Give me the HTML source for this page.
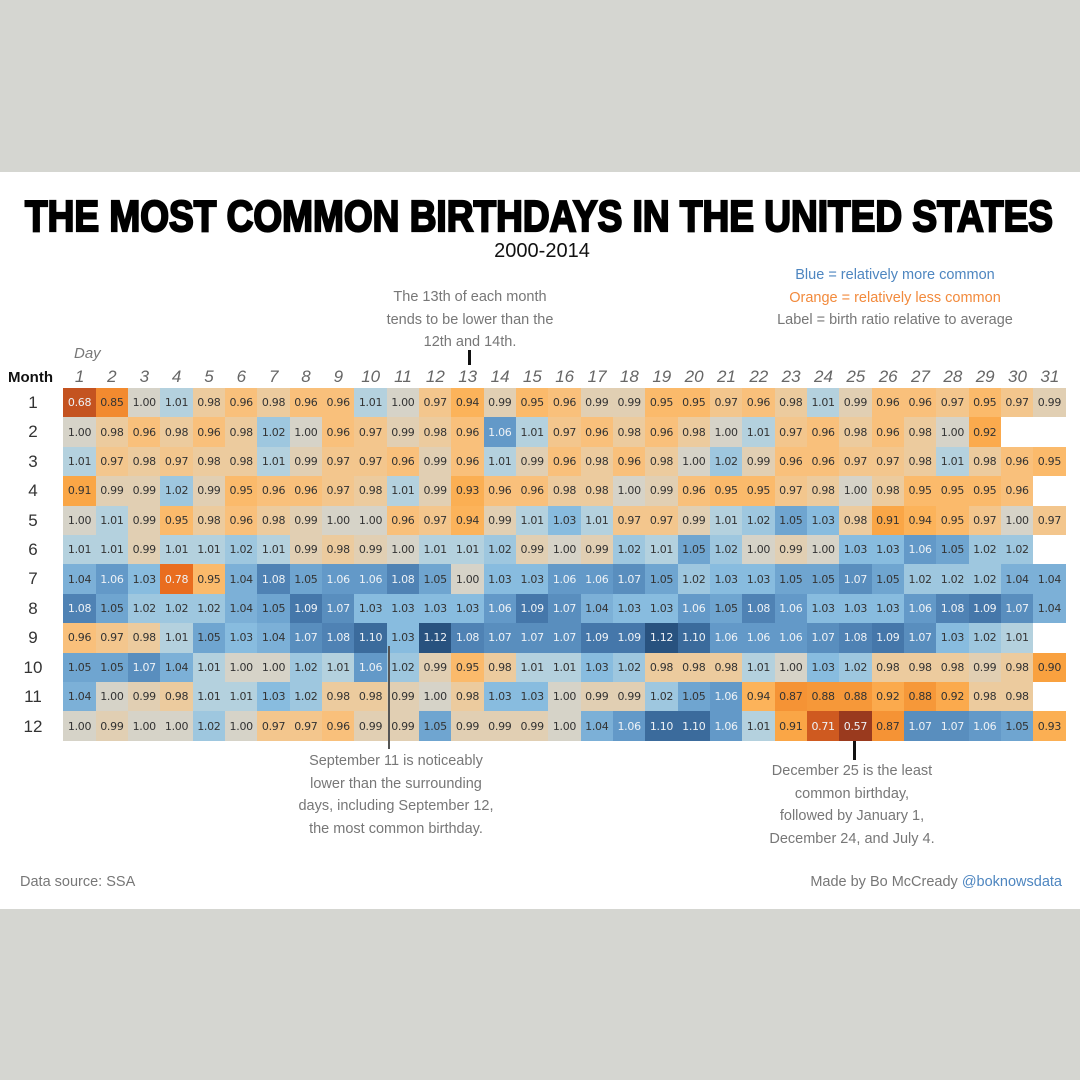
<!DOCTYPE html>
<html><head><meta charset="utf-8">
<style>
body{margin:0;width:1080px;height:1080px;background:#d5d6d1;position:relative;overflow:hidden;font-family:"Liberation Sans",sans-serif}
#panel{position:absolute;left:0;top:172px;width:1080px;height:737px;background:#fff}
.t{position:absolute;white-space:nowrap}
.c{text-align:center;transform:translateX(-50%)}
#grid{position:absolute;left:63.4px;top:388px;display:grid;grid-template-columns:repeat(31,32.34px);grid-auto-rows:29.42px}
#grid span{font-size:11px;color:#333;display:flex;align-items:center;justify-content:center;font-family:"DejaVu Sans","Liberation Sans",sans-serif;letter-spacing:-0.3px}
#grid span.e{background:transparent}
.ann{font-size:14.5px;color:#777;line-height:22.5px;text-align:center}
.day{position:absolute;top:367px;font-size:17px;font-style:italic;color:#666;transform:translateX(-50%)}
.mon{position:absolute;left:33px;font-size:17px;color:#333;transform:translate(-50%,-50%)}
</style></head><body>
<div id="panel"></div>
<svg style="position:absolute;left:0;top:0" width="1080" height="260">
<text x="25" y="231" textLength="1028" lengthAdjust="spacingAndGlyphs" font-family="Liberation Sans" font-weight="bold" font-size="44" fill="#000" stroke="#000" stroke-width="2.2">THE MOST COMMON BIRTHDAYS IN THE UNITED STATES</text>
</svg>
<div class="t c" style="left:542px;top:240px;font-size:20px;color:#111">2000-2014</div>
<div class="t c ann" style="left:470px;top:286px">The 13th of each month<br>tends to be lower than the<br>12th and 14th.</div>
<div class="t" style="left:467.5px;top:350px;width:3px;height:15px;background:#111"></div>
<div class="t c ann" style="left:895px;top:264px"><span style="color:#4e86c0">Blue = relatively more common</span><br><span style="color:#f28a3c">Orange = relatively less common</span><br>Label = birth ratio relative to average</div>
<div class="t" style="left:74px;top:345px;font-size:15px;font-style:italic;color:#777">Day</div>
<div class="t" style="left:8px;top:369px;font-size:15px;font-weight:bold;color:#111">Month</div>
<div id="days"></div>
<div id="mons"></div>
<div id="grid">
<span>0.68</span><span>0.85</span><span>1.00</span><span>1.01</span><span>0.98</span><span>0.96</span><span>0.98</span><span>0.96</span><span>0.96</span><span>1.01</span><span>1.00</span><span>0.97</span><span>0.94</span><span>0.99</span><span>0.95</span><span>0.96</span><span>0.99</span><span>0.99</span><span>0.95</span><span>0.95</span><span>0.97</span><span>0.96</span><span>0.98</span><span>1.01</span><span>0.99</span><span>0.96</span><span>0.96</span><span>0.97</span><span>0.95</span><span>0.97</span><span>0.99</span>
<span>1.00</span><span>0.98</span><span>0.96</span><span>0.98</span><span>0.96</span><span>0.98</span><span>1.02</span><span>1.00</span><span>0.96</span><span>0.97</span><span>0.99</span><span>0.98</span><span>0.96</span><span>1.06</span><span>1.01</span><span>0.97</span><span>0.96</span><span>0.98</span><span>0.96</span><span>0.98</span><span>1.00</span><span>1.01</span><span>0.97</span><span>0.96</span><span>0.98</span><span>0.96</span><span>0.98</span><span>1.00</span><span>0.92</span><span class="e"></span><span class="e"></span>
<span>1.01</span><span>0.97</span><span>0.98</span><span>0.97</span><span>0.98</span><span>0.98</span><span>1.01</span><span>0.99</span><span>0.97</span><span>0.97</span><span>0.96</span><span>0.99</span><span>0.96</span><span>1.01</span><span>0.99</span><span>0.96</span><span>0.98</span><span>0.96</span><span>0.98</span><span>1.00</span><span>1.02</span><span>0.99</span><span>0.96</span><span>0.96</span><span>0.97</span><span>0.97</span><span>0.98</span><span>1.01</span><span>0.98</span><span>0.96</span><span>0.95</span>
<span>0.91</span><span>0.99</span><span>0.99</span><span>1.02</span><span>0.99</span><span>0.95</span><span>0.96</span><span>0.96</span><span>0.97</span><span>0.98</span><span>1.01</span><span>0.99</span><span>0.93</span><span>0.96</span><span>0.96</span><span>0.98</span><span>0.98</span><span>1.00</span><span>0.99</span><span>0.96</span><span>0.95</span><span>0.95</span><span>0.97</span><span>0.98</span><span>1.00</span><span>0.98</span><span>0.95</span><span>0.95</span><span>0.95</span><span>0.96</span><span class="e"></span>
<span>1.00</span><span>1.01</span><span>0.99</span><span>0.95</span><span>0.98</span><span>0.96</span><span>0.98</span><span>0.99</span><span>1.00</span><span>1.00</span><span>0.96</span><span>0.97</span><span>0.94</span><span>0.99</span><span>1.01</span><span>1.03</span><span>1.01</span><span>0.97</span><span>0.97</span><span>0.99</span><span>1.01</span><span>1.02</span><span>1.05</span><span>1.03</span><span>0.98</span><span>0.91</span><span>0.94</span><span>0.95</span><span>0.97</span><span>1.00</span><span>0.97</span>
<span>1.01</span><span>1.01</span><span>0.99</span><span>1.01</span><span>1.01</span><span>1.02</span><span>1.01</span><span>0.99</span><span>0.98</span><span>0.99</span><span>1.00</span><span>1.01</span><span>1.01</span><span>1.02</span><span>0.99</span><span>1.00</span><span>0.99</span><span>1.02</span><span>1.01</span><span>1.05</span><span>1.02</span><span>1.00</span><span>0.99</span><span>1.00</span><span>1.03</span><span>1.03</span><span>1.06</span><span>1.05</span><span>1.02</span><span>1.02</span><span class="e"></span>
<span>1.04</span><span>1.06</span><span>1.03</span><span>0.78</span><span>0.95</span><span>1.04</span><span>1.08</span><span>1.05</span><span>1.06</span><span>1.06</span><span>1.08</span><span>1.05</span><span>1.00</span><span>1.03</span><span>1.03</span><span>1.06</span><span>1.06</span><span>1.07</span><span>1.05</span><span>1.02</span><span>1.03</span><span>1.03</span><span>1.05</span><span>1.05</span><span>1.07</span><span>1.05</span><span>1.02</span><span>1.02</span><span>1.02</span><span>1.04</span><span>1.04</span>
<span>1.08</span><span>1.05</span><span>1.02</span><span>1.02</span><span>1.02</span><span>1.04</span><span>1.05</span><span>1.09</span><span>1.07</span><span>1.03</span><span>1.03</span><span>1.03</span><span>1.03</span><span>1.06</span><span>1.09</span><span>1.07</span><span>1.04</span><span>1.03</span><span>1.03</span><span>1.06</span><span>1.05</span><span>1.08</span><span>1.06</span><span>1.03</span><span>1.03</span><span>1.03</span><span>1.06</span><span>1.08</span><span>1.09</span><span>1.07</span><span>1.04</span>
<span>0.96</span><span>0.97</span><span>0.98</span><span>1.01</span><span>1.05</span><span>1.03</span><span>1.04</span><span>1.07</span><span>1.08</span><span>1.10</span><span>1.03</span><span>1.12</span><span>1.08</span><span>1.07</span><span>1.07</span><span>1.07</span><span>1.09</span><span>1.09</span><span>1.12</span><span>1.10</span><span>1.06</span><span>1.06</span><span>1.06</span><span>1.07</span><span>1.08</span><span>1.09</span><span>1.07</span><span>1.03</span><span>1.02</span><span>1.01</span><span class="e"></span>
<span>1.05</span><span>1.05</span><span>1.07</span><span>1.04</span><span>1.01</span><span>1.00</span><span>1.00</span><span>1.02</span><span>1.01</span><span>1.06</span><span>1.02</span><span>0.99</span><span>0.95</span><span>0.98</span><span>1.01</span><span>1.01</span><span>1.03</span><span>1.02</span><span>0.98</span><span>0.98</span><span>0.98</span><span>1.01</span><span>1.00</span><span>1.03</span><span>1.02</span><span>0.98</span><span>0.98</span><span>0.98</span><span>0.99</span><span>0.98</span><span>0.90</span>
<span>1.04</span><span>1.00</span><span>0.99</span><span>0.98</span><span>1.01</span><span>1.01</span><span>1.03</span><span>1.02</span><span>0.98</span><span>0.98</span><span>0.99</span><span>1.00</span><span>0.98</span><span>1.03</span><span>1.03</span><span>1.00</span><span>0.99</span><span>0.99</span><span>1.02</span><span>1.05</span><span>1.06</span><span>0.94</span><span>0.87</span><span>0.88</span><span>0.88</span><span>0.92</span><span>0.88</span><span>0.92</span><span>0.98</span><span>0.98</span><span class="e"></span>
<span>1.00</span><span>0.99</span><span>1.00</span><span>1.00</span><span>1.02</span><span>1.00</span><span>0.97</span><span>0.97</span><span>0.96</span><span>0.99</span><span>0.99</span><span>1.05</span><span>0.99</span><span>0.99</span><span>0.99</span><span>1.00</span><span>1.04</span><span>1.06</span><span>1.10</span><span>1.10</span><span>1.06</span><span>1.01</span><span>0.91</span><span>0.71</span><span>0.57</span><span>0.87</span><span>1.07</span><span>1.07</span><span>1.06</span><span>1.05</span><span>0.93</span>
</div>
<div class="t" style="left:388px;top:646px;width:2px;height:103px;background:#555"></div>
<div class="t" style="left:853px;top:741px;width:3px;height:19px;background:#111"></div>
<div class="t c ann" style="left:396px;top:750px">September 11 is noticeably<br>lower than the surrounding<br>days, including September 12,<br>the most common birthday.</div>
<div class="t c ann" style="left:852px;top:760px">December 25 is the least<br>common birthday,<br>followed by January 1,<br>December 24, and July 4.</div>
<div class="t" style="left:20px;top:874px;font-size:14.5px;color:#777">Data source: SSA</div>
<div class="t" style="right:18px;top:874px;font-size:14.5px;color:#777">Made by Bo McCready <span style="color:#4e86c0">@boknowsdata</span></div>
<div class="day" style="left:79.6px">1</div><div class="day" style="left:111.9px">2</div><div class="day" style="left:144.3px">3</div><div class="day" style="left:176.6px">4</div><div class="day" style="left:209px">5</div><div class="day" style="left:241.3px">6</div><div class="day" style="left:273.7px">7</div><div class="day" style="left:306px">8</div><div class="day" style="left:338.3px">9</div><div class="day" style="left:370.7px">10</div><div class="day" style="left:403px">11</div><div class="day" style="left:435.4px">12</div><div class="day" style="left:467.7px">13</div><div class="day" style="left:500.1px">14</div><div class="day" style="left:532.4px">15</div><div class="day" style="left:564.7px">16</div><div class="day" style="left:597.1px">17</div><div class="day" style="left:629.4px">18</div><div class="day" style="left:661.8px">19</div><div class="day" style="left:694.1px">20</div><div class="day" style="left:726.5px">21</div><div class="day" style="left:758.8px">22</div><div class="day" style="left:791.1px">23</div><div class="day" style="left:823.5px">24</div><div class="day" style="left:855.8px">25</div><div class="day" style="left:888.2px">26</div><div class="day" style="left:920.5px">27</div><div class="day" style="left:952.9px">28</div><div class="day" style="left:985.2px">29</div><div class="day" style="left:1017.5px">30</div><div class="day" style="left:1049.9px">31</div>
<div class="mon" style="top:403px">1</div><div class="mon" style="top:432px">2</div><div class="mon" style="top:462px">3</div><div class="mon" style="top:491px">4</div><div class="mon" style="top:521px">5</div><div class="mon" style="top:550px">6</div><div class="mon" style="top:579px">7</div><div class="mon" style="top:609px">8</div><div class="mon" style="top:638px">9</div><div class="mon" style="top:668px">10</div><div class="mon" style="top:697px">11</div><div class="mon" style="top:727px">12</div>
<script>
var stops=[[0.57,[154,58,30]],[0.71,[207,90,32]],[0.78,[233,109,31]],[0.85,[242,138,47]],[0.90,[249,161,63]],[0.94,[252,179,90]],[0.96,[249,192,123]],[0.98,[236,203,158]],[1.00,[214,211,200]],[1.01,[180,209,222]],[1.03,[136,188,223]],[1.06,[99,153,200]],[1.09,[69,119,170]],[1.12,[40,82,127]]];
function col(v){for(var i=0;i<stops.length-1;i++){var a=stops[i],b=stops[i+1];if(v<=b[0]){var t=Math.max(0,(v-a[0])/(b[0]-a[0]));return 'rgb('+a[1].map(function(x,k){return Math.round(x+(b[1][k]-x)*t)}).join(',')+')';}}return 'rgb(40,82,127)';}
document.querySelectorAll('#grid span').forEach(function(s){if(s.className=='e')return;var v=parseFloat(s.textContent);s.style.background=col(v);if(v>=1.06||v<=0.78)s.style.color='#eef2f6';});
</script>
</body></html>
